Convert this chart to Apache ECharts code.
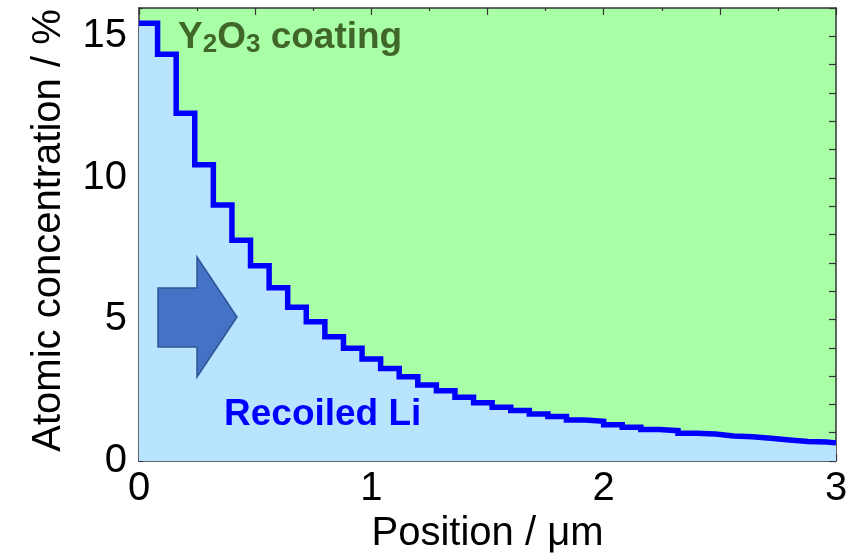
<!DOCTYPE html>
<html>
<head>
<meta charset="utf-8">
<script src="https://cdn.jsdelivr.net/npm/echarts@6/dist/echarts.min.js"></script>
<style>html,body{margin:0;padding:0;background:#fff;}#c{width:856px;height:560px;}</style>
</head>
<body>
<div id="c"></div>
<script>
// Step edges along the position axis (µm) and concentration held on each step (%)
var stepStarts = [0.00,0.08,0.16,0.24,0.32,0.40,0.48,0.56,0.64,0.72,0.80,0.88,0.96,1.04,1.12,1.20,1.28,1.36,1.44,1.52,1.60,1.68,1.76,1.84,1.92,2.00,2.08,2.16,2.24,2.32,2.40,2.48,2.56,2.64,2.72,2.80,2.88,2.96];
var stepValues = [15.46,14.37,12.28,10.46,9.04,7.80,6.90,6.12,5.43,4.92,4.39,3.98,3.60,3.27,2.98,2.68,2.48,2.25,2.06,1.90,1.78,1.66,1.57,1.45,1.40,1.28,1.19,1.11,1.07,0.98,0.95,0.88,0.86,0.80,0.74,0.69,0.67,0.64];
var xEnd = 3.0;
var xTickLabels = ['0','1','2','3'];
var yTickLabels = ['0','5','10','15'];

var data = [];
for (var i = 0; i < stepStarts.length; i++) data.push([stepStarts[i], stepValues[i]]);
data.push([xEnd, stepValues[stepValues.length - 1]]);

var FONT = 'Arial, "Liberation Sans", sans-serif';
var axisColor = '#333333';

var chart = echarts.init(document.getElementById('c'), null, {renderer: 'canvas'});
chart.setOption({
  animation: false,
  grid: {left: 139, right: 20, top: 8, bottom: 99, show: true, backgroundColor: '#A8FFA6', borderWidth: 0},
  xAxis: [{
    type: 'value', min: 0, max: 3, interval: 0.5, position: 'bottom',
    name: 'Position / \u03bcm', nameLocation: 'middle', nameGap: 52,
    nameTextStyle: {fontFamily: FONT, fontSize: 40, color: '#000'},
    axisLine: {show: true, onZero: false, lineStyle: {color: axisColor, width: 1.5}},
    axisTick: {show: true, inside: true, length: 7, lineStyle: {color: axisColor, width: 1.2}},
    minorTick: {show: true, splitNumber: 2, length: 3, lineStyle: {color: axisColor, width: 1.2}},
    splitLine: {show: false}, minorSplitLine: {show: false},
    axisLabel: {margin: 8, fontFamily: FONT, fontSize: 40, color: '#000',
      formatter: function (v) { var s = String(Math.round(v)); return (Math.abs(v - Math.round(v)) < 1e-6 && xTickLabels.indexOf(s) >= 0) ? s : ''; }}
  }, {
    type: 'value', min: 0, max: 3, interval: 0.5, position: 'top',
    axisLine: {show: true, onZero: false, lineStyle: {color: axisColor, width: 1.5}},
    axisTick: {show: true, inside: true, length: 7, lineStyle: {color: axisColor, width: 1.2}},
    minorTick: {show: true, splitNumber: 2, length: 3, lineStyle: {color: axisColor, width: 1.2}},
    splitLine: {show: false}, axisLabel: {show: false}
  }],
  yAxis: [{
    type: 'value', min: 0, max: 16, interval: 1, position: 'left',
    name: 'Atomic concentration / %', nameLocation: 'middle', nameGap: 70,
    nameTextStyle: {fontFamily: FONT, fontSize: 40, color: '#000', padding: [0, 0, 0, 8]},
    axisLine: {show: true, onZero: false, lineStyle: {color: axisColor, width: 1.5}},
    axisTick: {show: true, inside: true, length: 4, lineStyle: {color: axisColor, width: 1.2}},
    splitLine: {show: false},
    axisLabel: {margin: 12, fontFamily: FONT, fontSize: 40, color: '#000',
      formatter: function (v) { var s = String(v); return yTickLabels.indexOf(s) >= 0 ? s : ''; }}
  }, {
    type: 'value', min: 0, max: 16, interval: 1, position: 'right',
    axisLine: {show: true, onZero: false, lineStyle: {color: axisColor, width: 1.5}},
    axisTick: {show: true, inside: true, length: 7, lineStyle: {color: axisColor, width: 1.2}},
    splitLine: {show: false}, axisLabel: {show: false}
  }],
  series: [{
    type: 'line', xAxisIndex: 0, yAxisIndex: 0, step: 'end', data: data,
    symbol: 'none', smooth: false, clip: true,
    lineStyle: {color: '#0000FF', width: 5.5, join: 'miter', cap: 'butt'},
    areaStyle: {color: '#B8E4FF', opacity: 1, origin: 'start'},
    z: 2
  }],
  graphic: [
    {type: 'polygon', z: 10,
      shape: {points: [[158,288],[197,288],[197,257],[237,317],[197,377],[197,347],[158,347]]},
      style: {fill: '#4472C4', stroke: '#2F5597', lineWidth: 1.5}},
    {type: 'text', z: 10, left: 224, top: 396,
      style: {text: 'Recoiled Li', fontFamily: FONT, fontWeight: 'bold', fontSize: 37, fill: '#0000FF'}},
    {type: 'text', z: 10, left: 178, top: 10,
      style: {
        text: '{a|Y}{s|2}{a|O}{s|3}{a| coating}',
        fill: '#40662A', fontFamily: FONT, fontWeight: 'bold',
        rich: {
          a: {fontFamily: FONT, fontWeight: 'bold', fontSize: 37, lineHeight: 40, fill: '#40662A', verticalAlign: 'middle'},
          s: {fontFamily: FONT, fontWeight: 'bold', fontSize: 26, lineHeight: 26, padding: [22, 0, 0, 0], fill: '#40662A', verticalAlign: 'bottom'}
        }
      }}
  ]
});
</script>
</body>
</html>
